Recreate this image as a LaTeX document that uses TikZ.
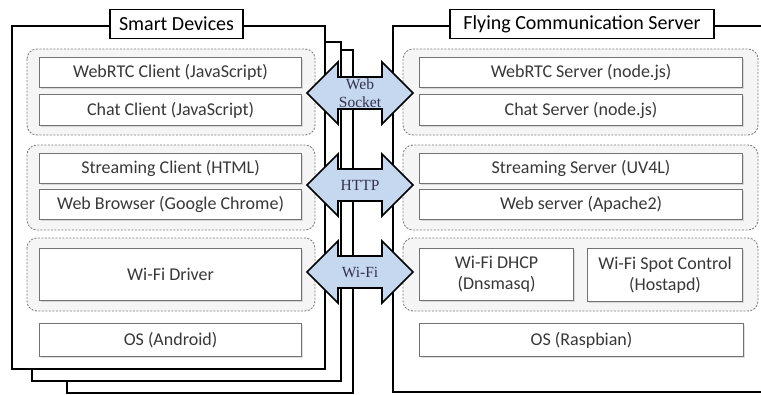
\documentclass[tikz,border=0pt]{standalone}
\usepackage{fontspec}
\setmainfont{Carlito}
\newfontfamily\protofont{Liberation Serif}
\usepackage{tikz}
\usetikzlibrary{shadows}
\definecolor{arrowblue}{RGB}{197,216,240}
\definecolor{labelgray}{RGB}{56,56,56}

\begin{document}
\begin{tikzpicture}[x=1pt,y=-1pt,%
% common options for the stacked frames:
frame/.style = {draw, line width=2.2pt, fill=white},
% common options for the titles:
title/.style = {draw, line width=1.8pt, fill=white, minimum height=29pt,
            inner sep=0, font=\fontsize{20}{22}\selectfont},
% common options for the dotted groups:
group/.style = {draw=black!50, fill=black!4, dash pattern=on 2pt off 1.5pt,
            line width=0.9pt, rounded corners=10pt},
% common options for blocks:
block/.style = {draw=black!55, fill=white, line width=1.1pt, align=center,
            anchor=north west, inner sep=0, text=labelgray,
            font=\fontsize{18}{21}\selectfont,
            drop shadow={shadow xshift=1.2pt, shadow yshift=-1.2pt, opacity=0.25}},
% common options for the protocol arrows:
proto/.style = {draw, line width=1.6pt, fill=arrowblue, line join=miter},
protolabel/.style = {align=center, inner sep=0, text=labelgray!90!blue,
            font=\protofont\fontsize{15.5}{18}\selectfont}]
\useasboundingbox (0,0) rectangle (761,394);
% smart devices (stacked)
\draw[frame] (67,50) rectangle (353,393);
\draw[frame] (32,42) rectangle (341,381);
\draw[frame] (12,26) rectangle (325,369);
% server
\draw[frame] (393,26) rectangle (775,392);
% groups
\draw[group] (27,49) rectangle (315,135);
\draw[group] (27,145) rectangle (315,230);
\draw[group] (27,238) rectangle (315,311);
\draw[group] (403,49) rectangle (758,135);
\draw[group] (403,145) rectangle (758,230);
\draw[group] (403,238) rectangle (758,311);
% client layers
\node[block,minimum width=262pt,minimum height=30pt] (C1) at (39,57) {WebRTC Client (JavaScript)};
\node[block,minimum width=262pt,minimum height=31pt] (C2) at (39,94) {Chat Client (JavaScript)};
\node[block,minimum width=262pt,minimum height=30pt] (C3) at (39,153) {Streaming Client (HTML)};
\node[block,minimum width=262pt,minimum height=30pt] (C4) at (39,189) {Web Browser (Google Chrome)};
\node[block,minimum width=262pt,minimum height=52pt] (C5) at (39,248) {Wi-Fi Driver};
\node[block,minimum width=262pt,minimum height=33pt] (C6) at (39,323) {OS (Android)};
% server layers
\node[block,minimum width=323pt,minimum height=30pt] (S1) at (419,57) {WebRTC Server (node.js)};
\node[block,minimum width=323pt,minimum height=31pt] (S2) at (419,94) {Chat Server (node.js)};
\node[block,minimum width=323pt,minimum height=30pt] (S3) at (419,153) {Streaming Server (UV4L)};
\node[block,minimum width=323pt,minimum height=30pt] (S4) at (419,189) {Web server (Apache2)};
\node[block,minimum width=154pt,minimum height=52pt] (S5) at (419,248) {Wi-Fi DHCP\\(Dnsmasq)};
\node[block,minimum width=155pt,minimum height=53pt] (S6) at (587,248) {Wi-Fi Spot Control\\(Hostapd)};
\node[block,minimum width=324pt,minimum height=33pt] (S7) at (419,323) {OS (Raspbian)};
% titles
\node[title,minimum width=133pt] (T1) at (176.5,24) {Smart Devices};
\node[title,minimum width=264pt] (T2) at (582,24) {Flying Communication Server};
% protocol arrows
\coordinate (ws) at (360,93);
\coordinate (http) at (360,185);
\coordinate (wifi) at (360,272);
\draw[proto] (ws) ++(-53,0) -- ++(31,-31) -- ++(0,15) -- ++(44,0) -- ++(0,-15) -- ++(31,31)
  -- ++(-31,31) -- ++(0,-15) -- ++(-44,0) -- ++(0,15) -- cycle;
\draw[proto] (http) ++(-53,0) -- ++(31,-31) -- ++(0,15) -- ++(44,0) -- ++(0,-15) -- ++(31,31)
  -- ++(-31,31) -- ++(0,-15) -- ++(-44,0) -- ++(0,15) -- cycle;
\draw[proto] (wifi) ++(-53,0) -- ++(31,-31) -- ++(0,15) -- ++(44,0) -- ++(0,-15) -- ++(31,31)
  -- ++(-31,31) -- ++(0,-15) -- ++(-44,0) -- ++(0,15) -- cycle;
\node[protolabel] (P1) at (ws) {Web\\Socket};
\node[protolabel] (P2) at (http) {HTTP};
\node[protolabel] (P3) at (wifi) {Wi-Fi};
\end{tikzpicture}
\end{document}
